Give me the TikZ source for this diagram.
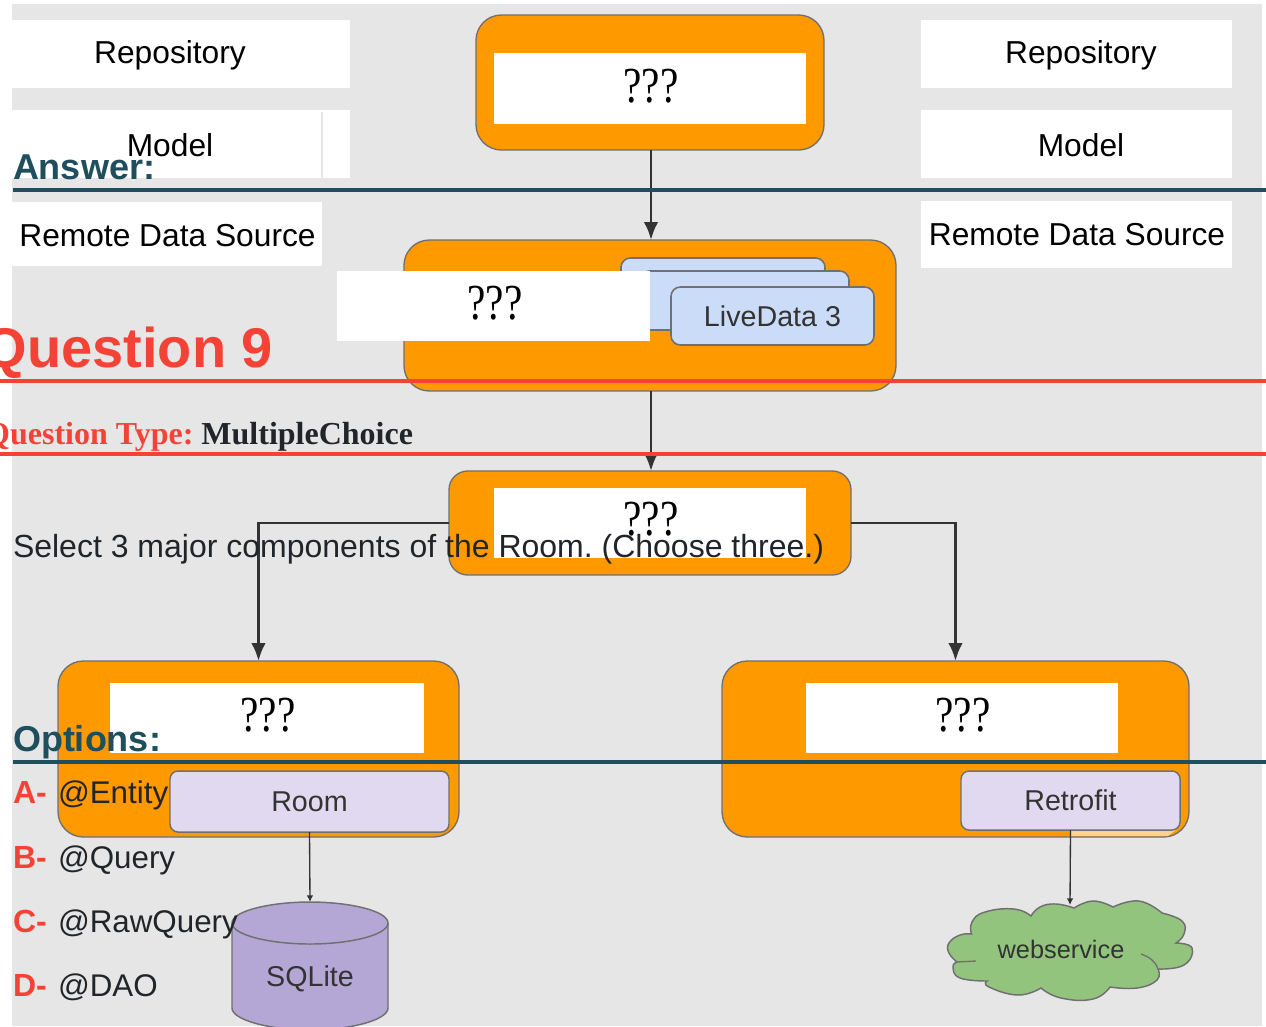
\documentclass[tikz,border=0pt]{standalone}
\usepackage{fontspec}
\setmainfont{Liberation Sans}
\newfontfamily\serifface{Liberation Serif}
\usetikzlibrary{arrows.meta}
\definecolor{bgray}{HTML}{E6E6E6}
\definecolor{orangebox}{HTML}{FF9900}
\definecolor{edgegray}{HTML}{707070}
\definecolor{liveblue}{HTML}{CBDCF8}
\definecolor{lilac}{HTML}{E1D9EF}
\definecolor{dbpurple}{HTML}{B4A7D6}
\definecolor{cloudgreen}{HTML}{93C47D}
\definecolor{tealhead}{HTML}{1F4E5C}
\definecolor{redhead}{HTML}{F44336}
\definecolor{inktext}{HTML}{212529}
\definecolor{linkgray}{HTML}{333333}
\newcommand\fsz[1]{\fontsize{#1pt}{#1pt}\selectfont}
\newcommand\pxbox[7]{\node[#6,minimum width={(#4-#2)*0.75pt},minimum height={(#5-#3)*0.75pt}] (#1) at ({(#2+#4)/2},{(#3+#5)/2}) {#7};}
\newcommand\qqq{\scalebox{1}[1.22]{\serifface\fsz{31}???}}
\tikzset{
 basebox/.style={inner sep=0pt,outer sep=0pt,align=center},
 whitebox/.style={basebox,fill=white,text=black},
 orangepanel/.style={basebox,fill=orangebox,draw=edgegray,line width=1pt,rounded corners=19pt},
 livecard/.style={basebox,fill=liveblue,draw=edgegray,line width=1.2pt,rounded corners=7pt,font=\fsz{21.5},text=linkgray},
 lilaccard/.style={basebox,fill=lilac,draw=edgegray,line width=1.1pt,rounded corners=6pt,font=\fsz{21.5},text=linkgray},
 bigarrow/.style={draw=linkgray,line width=2.2pt,-{Latex[length=13.5pt,width=11pt]}},
 thinarrow/.style={draw=linkgray,line width=1pt,-{Latex[length=5pt,width=5pt]}},
 overlay text/.style={inner sep=0pt,outer sep=0pt,anchor=base west},
 labeltext/.style={inner sep=0pt,outer sep=0pt,anchor=center,font=\fsz{23.8},text=black},
 tealtitle/.style={overlay text,font=\bfseries\fsz{27},text=tealhead},
 optkey/.style={overlay text,font=\bfseries\fsz{24},text=redhead},
 optval/.style={overlay text,font=\fsz{23.5},text=inktext},
 tealrule/.style={draw=tealhead,line width=2.3pt},
 redrule/.style={draw=redhead,line width=2.3pt},
}
\begin{document}
\begin{tikzpicture}[x=0.75pt,y=-0.75pt]
\frenchspacing
\useasboundingbox (0,0) rectangle (1266,1026);
\clip (0,0) rectangle (1266,1026);
\fill[white] (0,0) rectangle (1266,1026);
\fill[bgray] (12,4) rectangle (1262,1026);
% left and right label boxes
\pxbox{repoL}{12}{20}{350}{88}{whitebox}{}
\node[labeltext] (repoLt) at (170,55) {Repository};
\pxbox{modelL}{12}{110}{350}{178}{whitebox}{}
\node[labeltext] (modelLt) at (170,145) {Model};
\draw[bgray,line width=0.8pt] (322,112) -- (322,178);
\pxbox{remoteL}{12}{202}{322}{266}{whitebox}{}
\node[labeltext] (remoteLt) at (167.5,236) {Remote Data Source};
\pxbox{repoR}{921}{20}{1232}{88}{whitebox}{}
\node[labeltext] (repoRt) at (1081,55) {Repository};
\pxbox{modelR}{921}{110}{1232}{178}{whitebox}{}
\node[labeltext] (modelRt) at (1081,145) {Model};
\pxbox{remoteR}{921}{201}{1232}{268}{whitebox}{}
\node[labeltext] (remoteRt) at (1077,235) {Remote Data Source};
% panels
\pxbox{toppanel}{476}{15}{824}{150}{orangepanel}{}
\pxbox{midpanel}{404}{240}{896}{391}{orangepanel}{}
\pxbox{lowpanel}{449}{471}{851}{575}{orangepanel,rounded corners=14pt}{}
\pxbox{leftpanel}{58}{661}{459}{837}{orangepanel}{}
\pxbox{rightpanel}{722}{661}{1189}{837}{orangepanel}{}
% connectors
\draw[bigarrow] ([xshift=0.75pt]toppanel.south) -- ([xshift=0.75pt]midpanel.north);
\draw[bigarrow] ([xshift=0.75pt]midpanel.south) -- ([xshift=0.75pt]lowpanel.north);
\draw[bigarrow] (lowpanel.west) -| (leftpanel.north);
\draw[bigarrow] (lowpanel.east) -| (rightpanel.north);
% white question boxes
\pxbox{topq}{494}{53}{806}{124}{whitebox}{}
\node[inner sep=0pt] (topqt) at (651,86) {\qqq};
% live data cards
\pxbox{liveA}{621}{258}{825}{316}{livecard}{}
\pxbox{liveB}{640}{271}{849}{330}{livecard}{}
\pxbox{liveC}{671}{287}{874}{345}{livecard}{LiveData 3}
\pxbox{midq}{337}{271}{650}{341}{whitebox}{}
\node[inner sep=0pt] (midqt) at (495,303) {\qqq};
\pxbox{lowq}{494}{488}{806}{558}{whitebox}{}
\node[inner sep=0pt] (lowqt) at (651,519) {\qqq};
\pxbox{leftq}{110}{683}{424}{753}{whitebox}{}
\node[inner sep=0pt] (leftqt) at (268,715) {\qqq};
\pxbox{rightq}{806}{683}{1118}{753}{whitebox}{}
\node[inner sep=0pt] (rightqt) at (963,715) {\qqq};
% inner cards
\fill[orangebox!45!white] (1070,830) -- (1176,830) -- (1168,836) -- (1070,836) -- cycle;
\pxbox{room}{170}{771}{449}{832}{lilaccard}{Room}
\pxbox{retrofit}{961}{771}{1180}{830}{lilaccard}{Retrofit}
% sqlite
\draw[fill=dbpurple,draw=edgegray,line width=1.1pt] (232,923) -- (232,1008) .. controls (232,1020) and (270,1030) .. (310,1030) .. controls (350,1030) and (388,1020) .. (388,1008) -- (388,923) .. controls (388,911) and (350,902) .. (310,902) .. controls (270,902) and (232,911) .. (232,923) -- cycle;
\draw[draw=edgegray,line width=1.1pt] (232,923) .. controls (232,935) and (270,944) .. (310,944) .. controls (350,944) and (388,935) .. (388,923);
\node[inner sep=0pt,font=\fsz{21.5},text=linkgray] (sqlite) at (310,979) {SQLite};
\coordinate (sqltop) at (310,902);
\draw[thinarrow] (room.south) -- (sqltop);
% cloud
\draw[fill=cloudgreen,draw=edgegray,line width=1.1pt]
 plot[smooth,tension=0.8] coordinates {(971.5,934) (972,922) (985,912) (1014,909) (1031,916)}
 -- plot[smooth,tension=0.8] coordinates {(1031,916) (1040,907) (1056,904) (1074,908)}
 -- plot[smooth,tension=0.8] coordinates {(1074,908) (1093,901) (1113,907)}
 -- plot[smooth,tension=0.8] coordinates {(1113,907) (1139,901) (1162,913)}
 -- plot[smooth,tension=0.8] coordinates {(1162,913) (1182,921) (1184,934) (1176,943)}
 -- plot[smooth,tension=0.8] coordinates {(1176,943) (1192,948) (1184,965) (1158,969)}
 -- plot[smooth,tension=0.8] coordinates {(1158,969) (1157,980) (1137,988) (1110,987)}
 -- plot[smooth,tension=0.8] coordinates {(1110,987) (1093,999) (1061,998) (1041,988)}
 -- plot[smooth,tension=0.8] coordinates {(1041,988) (1018,995) (989,987) (987,981)}
 -- plot[smooth,tension=0.8] coordinates {(987,981) (960,978) (953,967) (957,962)}
 -- plot[smooth,tension=0.8] coordinates {(957,962) (949,953) (949,943) (960,935) (971.5,934)}
 -- cycle;
\draw[draw=edgegray,line width=1pt] (1141,954) to[out=-20,in=110] (1158,969);
\draw[draw=edgegray,line width=1pt] (957,962) -- (976,961);
\node[inner sep=0pt,font=\fsz{19},text=linkgray] (websvc) at (1061,949) {webservice};
\coordinate (webtop) at (1070,905);
\draw[thinarrow] (retrofit.south) -- (webtop);
% page overlay
\node[tealtitle] (answerhead) at (13,179) {Answer:};
\coordinate (ansa) at (13,190); \coordinate (ansb) at (1266,190);
\draw[tealrule] (ansa) -- (ansb);
\node[overlay text,anchor=base east,font=\bfseries\fsz{42},text=redhead] (qhead) at (273,367) {Question 9};
\coordinate (qa) at (0,381); \coordinate (qb) at (1266,381);
\draw[redrule] (qa) -- (qb);
\node[overlay text,anchor=base east,font=\serifface\bfseries\fsz{24},text=inktext] (qtype) at (413,444) {\textcolor{redhead}{Question Type:} MultipleChoice};
\coordinate (ta) at (0,454); \coordinate (tb) at (1266,454);
\draw[redrule] (ta) -- (tb);
\node[overlay text,font=\fsz{24},text=inktext] (qtext) at (13,557) {Select 3 major components of the Room. (Choose three.)};
\node[tealtitle] (opthead) at (13,751) {Options:};
\coordinate (oa) at (13,762); \coordinate (ob) at (1266,762);
\draw[tealrule] (oa) -- (ob);
\node[optkey] (ka) at (13,803) {A-}; \node[optval] (va) at (58,803) {@Entity};
\node[optkey] (kb) at (13,868) {B-}; \node[optval] (vb) at (58,868) {@Query};
\node[optkey] (kc) at (13,932) {C-}; \node[optval] (vc) at (58,932) {@RawQuery};
\node[optkey] (kd) at (13,996) {D-}; \node[optval] (vd) at (58,996) {@DAO};
\end{tikzpicture}
\end{document}
